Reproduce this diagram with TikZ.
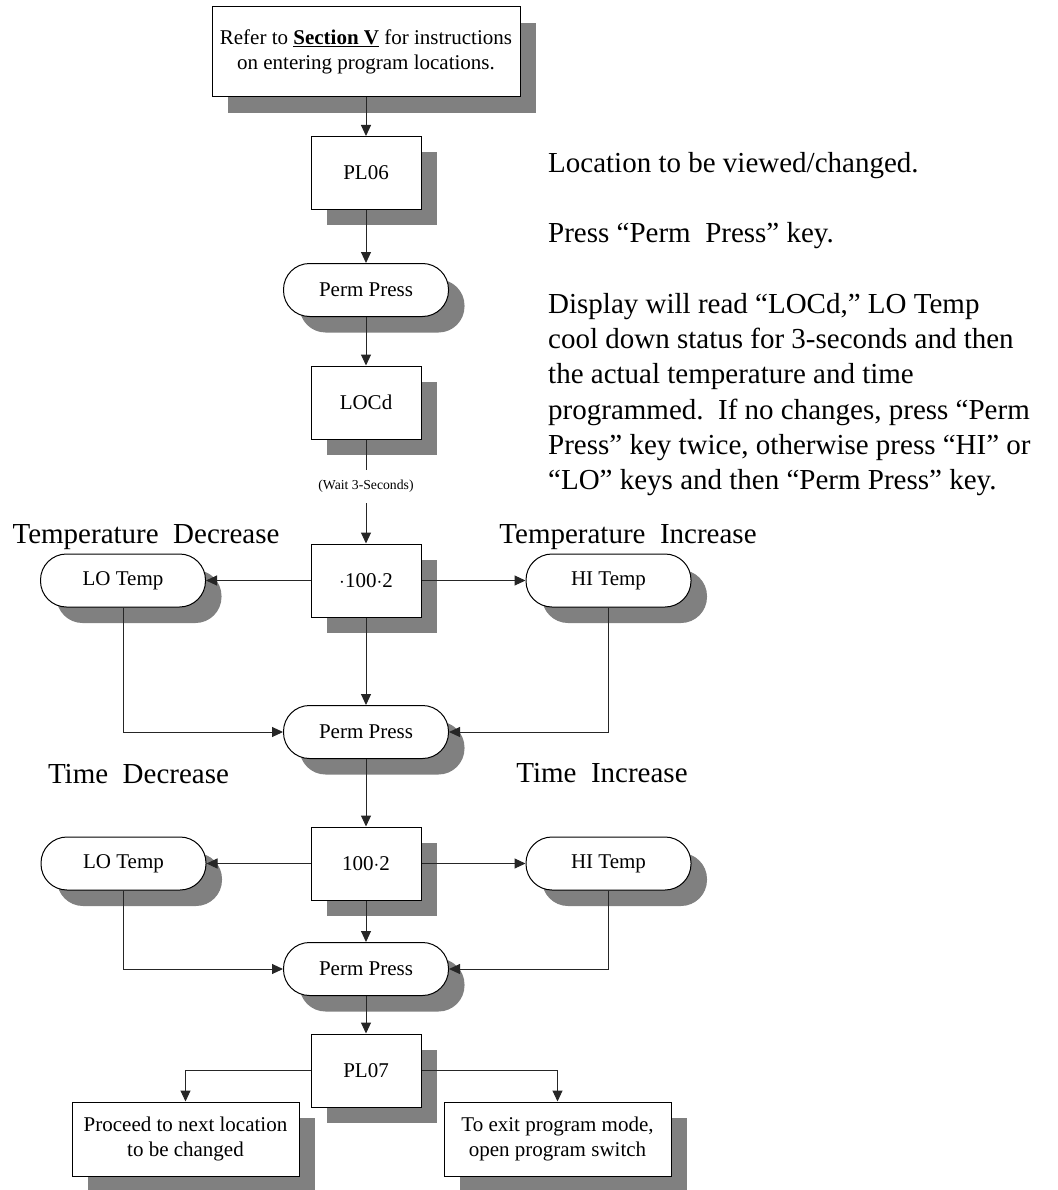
\documentclass[tikz,border=0pt]{standalone}
\usepackage{fontspec}
\setmainfont{Liberation Serif}
\usetikzlibrary{arrows.meta,shadows,positioning}
\definecolor{shadowgray}{HTML}{808080}
\begin{document}
\begin{tikzpicture}[x=1pt,y=-1pt,
  boxtext/.style={font=\fontsize{21}{24.5}\selectfont},
  shadowed/.style={drop shadow={shadow xshift=16pt,shadow yshift=-16pt,fill=shadowgray,draw=none,opacity=1}},
  base/.style={draw=black,line width=1pt,fill=white,align=center,inner sep=0pt,boxtext,shadowed},
  rbox/.style={base,rectangle,minimum width=110pt,minimum height=73pt},
  pill/.style={base,rectangle,rounded corners=26pt,minimum width=165pt,minimum height=53pt},
  bigtext/.style={font=\fontsize{29}{35.3}\selectfont,inner sep=0pt},
  conn/.style={draw=black!85,line width=1pt,-{Triangle[length=11pt,width=10pt]}}
]
\useasboundingbox (0,0) rectangle (1057,1190);

% nodes
\node[base,minimum width=308pt,minimum height=90pt] (top) at (366,52)
  {Refer to \textbf{\underline{Section V}} for instructions\\on entering program locations.};
\node[rbox] (pl06) at (366,173) {PL06};
\node[pill] (pp1) at (366,290) {Perm Press};
\node[rbox] (locd) at (366,402.5) {LOCd};
\node[rbox] (v1) at (366,580.5) {$\cdot$100$\cdot$2};
\node[pill] (lo1) at (123,580.5) {LO Temp};
\node[pill] (hi1) at (608.5,580.5) {HI Temp};
\node[pill] (pp2) at (366,732) {Perm Press};
\node[rbox] (v2) at (366,863.5) {100$\cdot$2};
\node[pill] (lo2) at (123.5,863.5) {LO Temp};
\node[pill] (hi2) at (608.5,863.5) {HI Temp};
\node[pill] (pp3) at (366,969) {Perm Press};
\node[rbox] (pl07) at (366,1070.5) {PL07};
\node[base,minimum width=227pt,minimum height=74pt,font=\fontsize{21}{25}\selectfont] (next) at (185.5,1139)
  {Proceed to next location\\to be changed};
\node[base,minimum width=227pt,minimum height=74pt,font=\fontsize{21}{25}\selectfont] (exit) at (557.5,1139)
  {To exit program mode,\\open program switch};

% labels
\node[bigtext,anchor=base] (tdec) at (146,543) {Temperature\ \ Decrease};
\node[bigtext,anchor=base] (tinc) at (628,543) {Temperature\ \ Increase};
\node[bigtext,anchor=base] (mdec) at (138.5,783) {Time\ \ Decrease};
\node[bigtext,anchor=base] (minc) at (602,782) {Time\ \ Increase};

\node[bigtext,anchor=base west] (t1) at (548,173) {Location to be viewed/changed.};
\node[bigtext,anchor=base west] (t2) at (548,243) {Press “Perm\ \ Press” key.};
\node[bigtext,anchor=north west,align=left] (t3) at (548,293)
  {Display will read “LOCd,” LO Temp\\
   cool down status for 3-seconds and then\\
   the actual temperature and time\\
   programmed.\ \ If no changes, press “Perm\\
   Press” key twice, otherwise press “HI” or\\
   “LO” keys and then “Perm Press” key.};

% connectors
\draw[conn] (top) -- (pl06);
\draw[conn] (pl06) -- (pp1);
\draw[conn] (pp1) -- (locd);
\draw[conn] (locd) -- node[pos=0.45,fill=white,inner xsep=2pt,inner ysep=10pt,font=\fontsize{13.7}{15}\selectfont] (wait) {(Wait 3-Seconds)} (v1);
\draw[conn] (v1.west) -- (lo1.east);
\draw[conn] (v1.east) -- (hi1.west);
\draw[conn] (v1) -- (pp2);
\draw[conn] (lo1.south) |- (pp2.west);
\draw[conn] (hi1.south) |- (pp2.east);
\draw[conn] (pp2) -- (v2);
\draw[conn] (v2.west) -- (lo2.east);
\draw[conn] (v2.east) -- (hi2.west);
\draw[conn] (v2) -- (pp3);
\draw[conn] (lo2.south) |- (pp3.west);
\draw[conn] (hi2.south) |- (pp3.east);
\draw[conn] (pp3) -- (pl07);
\draw[conn] (pl07.west) -| (next.north);
\draw[conn] (pl07.east) -| (exit.north);
\end{tikzpicture}
\end{document}
